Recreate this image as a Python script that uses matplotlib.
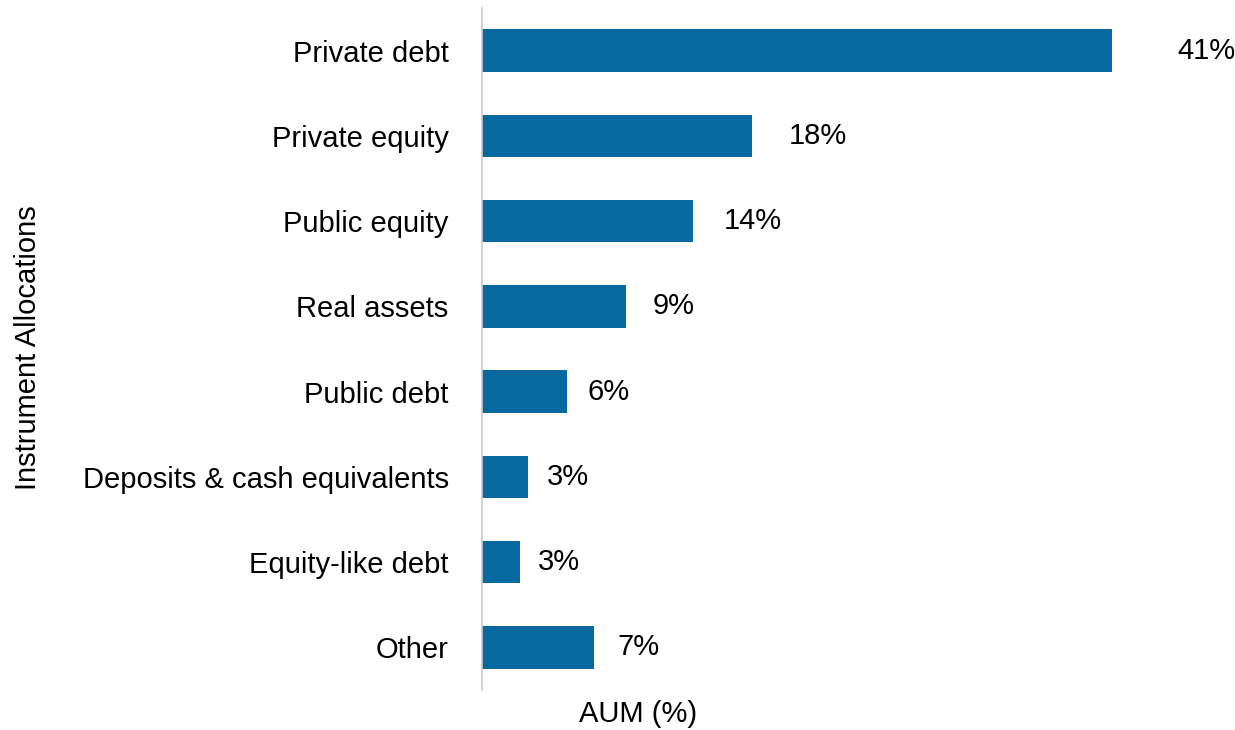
import matplotlib.pyplot as plt

categories = ["Private debt", "Private equity", "Public equity", "Real assets",
              "Public debt", "Deposits & cash equivalents", "Equity-like debt", "Other"]
values = [41.0, 17.6, 13.7, 9.4, 5.5, 3.0, 2.5, 7.3]
labels = ["41%", "18%", "14%", "9%", "6%", "3%", "3%", "7%"]

plt.rcParams["font.family"] = ["Liberation Sans", "DejaVu Sans"]

fig = plt.figure(figsize=(12.35, 7.3), dpi=100)
ax = fig.add_axes([482 / 1235, 40 / 730, 753 / 1235, 682 / 730])

y = list(range(len(categories)))
ax.barh(y, values, height=0.5, color="#0869a0")
# value labels sit a little right of each bar
for yi, v, lab in zip(y, values, labels):
    ax.text(v * 1.08 + 0.95, yi, lab, va="center", ha="left", fontsize=21, color="black")

ax.set_ylim(len(categories) - 0.5, -0.5)
ax.set_xlim(0, 49)
ax.set_yticks(y)
ax.set_yticklabels(categories, fontsize=21)
ax.tick_params(axis="y", length=0, pad=24)
ax.set_xticks([])
for s in ["top", "right", "bottom"]:
    ax.spines[s].set_visible(False)
ax.spines["left"].set_color("#c8c8c8")
ax.spines["left"].set_linewidth(1.2)

fig.text(638 / 1235, 1 - 714 / 730, "AUM (%)", ha="center", va="center", fontsize=21)
fig.text(28 / 1235, 1 - 348 / 730, "Instrument Allocations", ha="center", va="center",
         rotation=90, fontsize=21)

fig.savefig("out.png", dpi=100)
